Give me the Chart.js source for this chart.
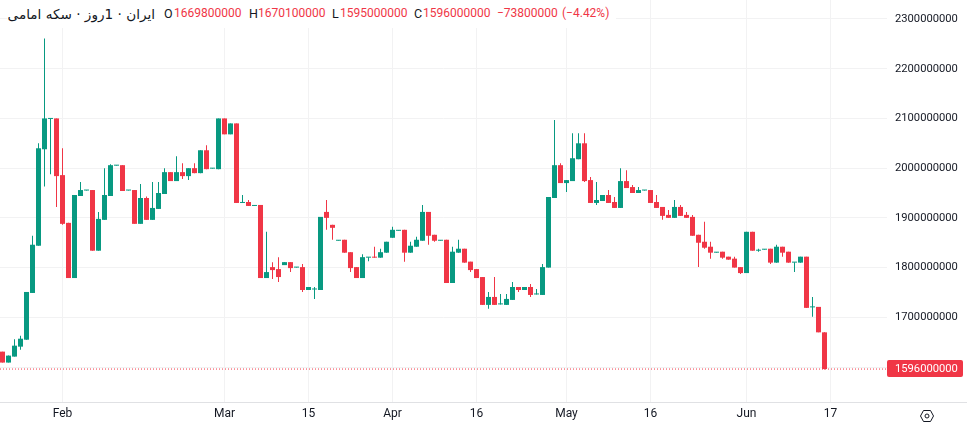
<!DOCTYPE html>
<html>
<head>
<meta charset="utf-8">
<title>سکه امامی</title>
<script src="https://cdn.jsdelivr.net/npm/chart.js@4"></script>
<style>
    html, body { margin: 0; padding: 0; background: #fff; }
    #wrap { position: relative; width: 969px; height: 426px; overflow: hidden; }
    #chart { position: absolute; left: 0; top: 0; }
    #legend { position: absolute; left: 7px; top: 0; width: 609px; height: 28px; background: #fff; font: 12px Roboto, sans-serif; }
    #legend span { position: absolute; top: 6px; line-height: 15px; white-space: nowrap; color: #f03646; }
    #legend span.key { color: #131722; font-size: 12.5px; }
    #legend #name { left: 0; top: 3px; width: 148px; direction: rtl; text-align: right; font: 13.6px "DejaVu Sans", sans-serif; line-height: 22px; color: #131722; }
    #gear { position: absolute; left: 919px; top: 409px; }
</style>
</head>
<body>
<div id="wrap">
    <canvas id="chart" width="969" height="426"></canvas>
    <div id="legend">
        <span id="name">ایران · 1روز · سکه امامی</span>
        <span class="key" style="left:157px">O</span><span style="left:167px">1669800000</span>
        <span class="key" style="left:242px">H</span><span style="left:251px">1670100000</span>
        <span class="key" style="left:325px">L</span><span style="left:333px">1595000000</span>
        <span class="key" style="left:407px">C</span><span style="left:416px">1596000000</span>
        <span style="left:490px">−73800000</span>
        <span style="left:555px">(−4.42%)</span>
    </div>
    <svg id="gear" width="16" height="14" viewBox="0 0 16 14">
        <path d="M1.5 7 L4.5 1.5 H11.5 L14.5 7 L11.5 12.5 H4.5 Z" fill="none" stroke="#131722"/>
        <circle cx="8" cy="7" r="2" fill="none" stroke="#131722"/>
    </svg>
</div>
<script>
// Daily candles, prices in millions
const opens = [
    1631, 1609, 1621, 1641, 1655, 1749, 1844, 2038, 2099, 2100,
    1986, 1890, 1779, 1944, 1955, 1956, 1834, 1896, 1944, 2005,
    2006, 1955, 1956, 1888, 1940, 1896, 1918, 1948, 1992, 1974,
    1992, 1984, 2000, 1990, 2036, 1999, 1998, 2100, 2068, 2090,
    1930, 1932, 1924, 1926, 1779, 1801, 1797, 1805, 1811, 1800,
    1801, 1755, 1756, 1755, 1912, 1886, 1854, 1856, 1831, 1801,
    1779, 1820, 1821, 1820, 1830, 1860, 1874, 1876, 1830, 1842,
    1854, 1912, 1866, 1854, 1856, 1769, 1830, 1838, 1812, 1797,
    1781, 1725, 1741, 1726, 1725, 1735, 1761, 1755, 1761, 1746,
    1745, 1800, 1940, 2006, 1970, 1974, 2018, 2050, 1976, 1930,
    1934, 1946, 1932, 1920, 1974, 1962, 1950, 1955, 1956, 1932,
    1922, 1906, 1900, 1922, 1906, 1902, 1866, 1852, 1842, 1830,
    1832, 1822, 1818, 1801, 1789, 1872, 1834, 1836, 1838, 1810,
    1842, 1832, 1810, 1810, 1822, 1720, 1721, 1669.8
];
const highs = [
    1631, 1623, 1656, 1663, 1751, 1864, 2050, 2261, 2100, 2100,
    2040, 1890, 1946, 1972, 1956, 1956, 1912, 2000, 2008, 2006,
    2006, 1956, 1956, 1968, 1943, 1972, 1972, 2000, 1992, 2024,
    2010, 2000, 2010, 2036, 2046, 2000, 2100, 2100, 2090, 2090,
    1946, 1936, 1925, 1926, 1872, 1811, 1821, 1811, 1811, 1801,
    1807, 1761, 1761, 1902, 1936, 1886, 1855, 1856, 1831, 1801,
    1827, 1821, 1842, 1838, 1852, 1882, 1875, 1876, 1852, 1862,
    1926, 1912, 1866, 1855, 1856, 1842, 1856, 1838, 1812, 1797,
    1781, 1751, 1781, 1747, 1747, 1771, 1761, 1761, 1767, 1757,
    1807, 1942, 2097, 2010, 1976, 2070, 2070, 2070, 1982, 1972,
    1946, 1956, 1942, 2000, 1996, 1966, 1962, 1956, 1956, 1946,
    1922, 1916, 1936, 1926, 1912, 1906, 1866, 1892, 1852, 1831,
    1832, 1822, 1822, 1801, 1872, 1872, 1838, 1837, 1838, 1846,
    1842, 1832, 1811, 1822, 1822, 1741, 1721, 1670.1
];
const lows = [
    1609, 1609, 1621, 1635, 1655, 1749, 1844, 1963, 1988, 1922,
    1886, 1779, 1779, 1944, 1955, 1834, 1834, 1896, 1944, 2005,
    1954, 1955, 1888, 1888, 1896, 1896, 1918, 1948, 1974, 1974,
    1978, 1976, 1990, 1990, 1998, 1999, 1998, 2068, 2068, 1930,
    1930, 1924, 1924, 1779, 1779, 1777, 1771, 1805, 1791, 1800,
    1751, 1755, 1737, 1755, 1876, 1856, 1854, 1830, 1791, 1779,
    1779, 1813, 1820, 1820, 1830, 1860, 1874, 1812, 1830, 1842,
    1854, 1846, 1852, 1854, 1769, 1769, 1830, 1810, 1791, 1779,
    1725, 1717, 1725, 1726, 1725, 1735, 1751, 1755, 1741, 1746,
    1745, 1800, 1940, 1970, 1952, 1974, 2018, 1972, 1930, 1926,
    1934, 1930, 1920, 1920, 1960, 1950, 1950, 1955, 1930, 1920,
    1896, 1900, 1900, 1904, 1900, 1864, 1801, 1838, 1818, 1830,
    1818, 1816, 1800, 1787, 1789, 1834, 1832, 1836, 1807, 1810,
    1822, 1810, 1791, 1810, 1719, 1701, 1669.8, 1595
];
const closes = [
    1609, 1623, 1643, 1657, 1751, 1846, 2040, 2100, 2100, 1984,
    1888, 1779, 1946, 1956, 1956, 1834, 1898, 1946, 2006, 2006,
    1954, 1956, 1888, 1940, 1896, 1920, 1950, 1992, 1974, 1992,
    1984, 2000, 1990, 2036, 1998, 2000, 2100, 2068, 2090, 1930,
    1931, 1924, 1925, 1779, 1791, 1795, 1781, 1811, 1799, 1801,
    1755, 1761, 1757, 1902, 1900, 1880, 1855, 1830, 1799, 1779,
    1821, 1821, 1820, 1831, 1852, 1876, 1875, 1830, 1844, 1856,
    1912, 1864, 1854, 1855, 1769, 1832, 1838, 1810, 1795, 1779,
    1725, 1741, 1725, 1727, 1737, 1761, 1755, 1761, 1745, 1747,
    1801, 1942, 2006, 1970, 1976, 2020, 2050, 1974, 1930, 1936,
    1946, 1930, 1920, 1974, 1960, 1950, 1956, 1956, 1930, 1920,
    1904, 1900, 1922, 1904, 1900, 1864, 1850, 1840, 1830, 1831,
    1820, 1816, 1800, 1789, 1872, 1834, 1835, 1837, 1810, 1842,
    1830, 1810, 1811, 1822, 1719, 1721, 1669.8, 1596
];

const priceTicks = [2300, 2200, 2100, 2000, 1900, 1800, 1700, 1600];
const timeTickBars = [10, 37, 51, 65, 79, 94, 108, 124, 138];
const timeTickLabels = ['Feb', 'Mar', '15', 'Apr', '16', 'May', '16', 'Jun', '17'];

const lastPrice = closes[closes.length - 1];

const UP = '#089981';
const DOWN = '#f03646';
const GRID = '#f2f2f3';
const TEXT = '#131722';

const candleColors = opens.map((o, i) => closes[i] >= o ? UP : DOWN);

// 6px per bar, first bar centred 2.5px in from the left
const xMin = -2.5 / 6;
const xMax = xMin + 887 / 6;

// Price tag on the right axis and the full width line under the time axis
const lastPriceTag = {
    id: 'lastPriceTag',
    afterDraw(chart) {
        const { ctx } = chart;
        const y = chart.scales.y.getPixelForValue(lastPrice) - 0.5;
        ctx.save();
        ctx.fillStyle = '#e0e1e4';
        ctx.fillRect(0, 402, 967, 1);
        ctx.fillStyle = DOWN;
        ctx.beginPath();
        ctx.roundRect(887, Math.round(y - 8.5), 76, 17, 2);
        ctx.fill();
        ctx.fillStyle = '#fff';
        ctx.font = '11.2px Roboto';
        ctx.textBaseline = 'middle';
        ctx.fillText(lastPrice + '000000', 895, Math.round(y) + 0.5);
        ctx.restore();
    }
};

new Chart(document.getElementById('chart'), {
    type: 'bar',
    plugins: [lastPriceTag],
    data: {
        datasets: [
            {
                label: 'wicks',
                data: opens.map((o, i) => ({ x: i, y: [lows[i], highs[i]] })),
                backgroundColor: candleColors,
                barThickness: 1,
                inflateAmount: 0,
                grouped: false,
                order: 2
            },
            {
                label: 'bodies',
                data: opens.map((o, i) => ({ x: i, y: [o, closes[i]] })),
                backgroundColor: candleColors,
                barThickness: 5,
                minBarLength: 1,
                inflateAmount: 0,
                grouped: false,
                order: 1
            },
            {
                type: 'line',
                label: 'last',
                data: [{ x: xMin, y: lastPrice }, { x: xMax, y: lastPrice }],
                borderColor: DOWN,
                borderWidth: 1,
                borderDash: [1, 2],
                pointRadius: 0,
                order: 0
            }
        ]
    },
    options: {
        responsive: false,
        animation: false,
        events: [],
        layout: { padding: 0 },
        plugins: {
            legend: { display: false },
            tooltip: { enabled: false }
        },
        scales: {
            x: {
                type: 'linear',
                offset: false,
                min: xMin,
                max: xMax,
                afterBuildTicks: scale => { scale.ticks = timeTickBars.map(v => ({ value: v })); },
                afterFit: scale => {
                    scale.height = 24;
                    scale.paddingLeft = 0;
                    scale.paddingRight = 0;
                },
                grid: { color: GRID, offset: false, tickLength: 0 },
                border: { display: false },
                ticks: {
                    autoSkip: false,
                    maxRotation: 0,
                    padding: 5,
                    color: TEXT,
                    font: { family: 'Roboto', size: 12 },
                    callback: (value, index) => timeTickLabels[index]
                }
            },
            y: {
                position: 'right',
                min: 1529.7,
                max: 2338.2,
                afterBuildTicks: scale => { scale.ticks = priceTicks.map(v => ({ value: v })); },
                afterFit: scale => {
                    scale.width = 82;
                    scale.paddingTop = 0;
                    scale.paddingBottom = 0;
                },
                grid: { color: GRID, tickLength: 0 },
                border: { display: false },
                ticks: {
                    align: 'center',
                    crossAlign: 'near',
                    padding: 8,
                    color: TEXT,
                    font: { family: 'Roboto', size: 11.2 },
                    callback: value => value === 1600 ? '' : value + '000000'
                }
            }
        }
    }
});
</script>
</body>
</html>
